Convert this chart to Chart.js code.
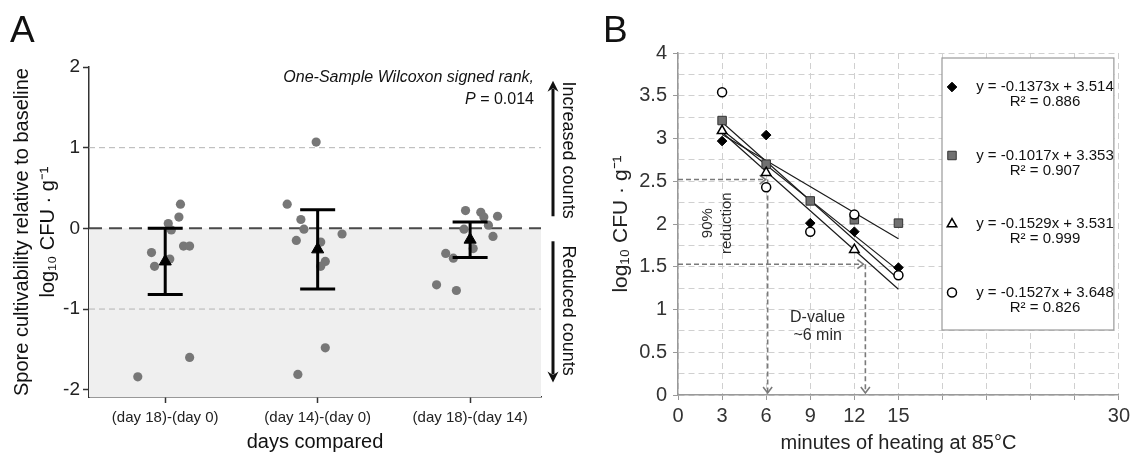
<!DOCTYPE html>
<html><head><meta charset="utf-8">
<script src="https://cdn.jsdelivr.net/npm/chart.js@4.4.1/dist/chart.umd.min.js"></script>
<style>
html,body{margin:0;padding:0;background:#fff;width:1134px;height:458px;overflow:hidden;}
#wa{position:absolute;left:0;top:0;width:590px;height:458px;}
#wb{position:absolute;left:590px;top:0;width:544px;height:458px;}
canvas{display:block;}
</style></head><body>
<div id="wa"><canvas id="ca" width="590" height="458"></canvas></div>
<div id="wb"><canvas id="cb" width="544" height="458"></canvas></div>
<script>
// ================= Panel A data =================
const comparisons = ['(day 18)-(day 0)', '(day 14)-(day 0)', '(day 18)-(day 14)'];
// x = position on the comparison axis (1, 2, 3 with jitter), y = log10 change
const d18d0X      = [0.82, 1.10, 1.09, 1.02, 1.04, 0.91, 0.93, 1.03, 1.12, 1.16, 1.16];
const d18d0Values = [-1.84, 0.30, 0.14, 0.06, -0.02, -0.30, -0.47, -0.38, -0.22, -0.22, -1.60];
const d14d0X      = [1.99, 1.80, 1.89, 1.91, 1.86, 2.16, 2.02, 2.05, 2.02, 2.05, 1.87];
const d14d0Values = [1.07, 0.30, 0.11, -0.01, -0.15, -0.07, -0.17, -0.41, -0.47, -1.48, -1.81];
const d18d14X      = [2.97, 3.07, 3.09, 3.18, 3.12, 2.96, 3.15, 3.02, 2.84, 2.89, 2.78, 2.91];
const d18d14Values = [0.22, 0.20, 0.14, 0.15, 0.04, -0.01, -0.10, -0.25, -0.31, -0.37, -0.70, -0.77];
const meanChange = [-0.41, -0.26, -0.14];
const ciLow  = [-0.82, -0.75, -0.36];
const ciHigh = [0.00, 0.23, 0.08];
const aYTicks = [-2, -1, 0, 1, 2];
const aRefLines = [1, -1];
const statTest = 'One-Sample Wilcoxon signed rank,';
const statP = '0.014';

// ================= Panel B data =================
const minutes = [3, 6, 9, 12, 15];
const diamondLog = [2.97, 3.04, 2.01, 1.91, 1.49];
const squareLog  = [3.21, 2.70, 2.27, 2.05, 2.01];
const triangleMinutes = [3, 6, 12];
const triangleLog = [3.09, 2.60, 1.70];
const circleLog  = [3.54, 2.43, 1.91, 2.11, 1.40];
const fitSlopes     = [-0.1373, -0.1017, -0.1529, -0.1527];
const fitIntercepts = [3.514, 3.353, 3.531, 3.648];
const fitR2         = [0.886, 0.907, 0.999, 0.826];
const fitRange = [3, 15];
const bXTickLabels = ['0', '3', '6', '9', '12', '15', '', '', '', '', '30'];
const bYTickLabels = ['0', '0.5', '1', '1.5', '2', '2.5', '3', '3.5', '4'];
const dLevels  = [2.52, 1.53];   // log10 levels: 90% reduction
const dMinutes = [6.1, 12.75];
const panelLabels = ['A', 'B'];

// ================= helpers =================
const FONT = '"Liberation Sans", Arial, Helvetica, sans-serif';
Chart.defaults.font.family = FONT;
Chart.defaults.color = '#222';
function isHalf(v){ return Math.abs(v*2 - Math.round(v*2)) < 1e-9; }

// ================= Chart A =================
const aXMin = 0.5, aXMax = 3.465;
const groupsA = [[d18d0X, d18d0Values], [d14d0X, d14d0Values], [d18d14X, d18d14Values]];
const dsA = [];
dsA.push({type:'line', label:'no change', data:[{x:aXMin,y:0},{x:aXMax,y:0}],
  borderColor:'#4a4a4a', borderWidth:2, borderDash:[13,7], backgroundColor:'#efefef',
  fill:'start', pointRadius:0, order:10});
aRefLines.forEach(v => dsA.push({type:'line', label:'ref '+v, data:[{x:aXMin,y:v},{x:aXMax,y:v}],
  borderColor:'#b3b3b3', borderWidth:1, borderDash:[6,4], pointRadius:0, fill:false, order:9}));
groupsA.forEach((g, gi) => dsA.push({type:'scatter', label:comparisons[gi],
  data:g[0].map((x,i) => ({x, y:g[1][i]})), backgroundColor:'#777', borderWidth:0,
  pointRadius:4.6, order:5}));
const meanIdxA = dsA.length;
dsA.push({type:'scatter', label:'mean', data:meanChange.map((y,i) => ({x:i+1, y})),
  pointStyle:'triangle', pointRadius:7, backgroundColor:'#000', borderColor:'#000', borderWidth:1, order:1});

const errorBars = {
  id:'errorBars',
  beforeDatasetDraw(chart, args){
    if (args.index !== meanIdxA) return;
    const {ctx, scales:{x, y}} = chart;
    ctx.save();
    ctx.strokeStyle = '#000'; ctx.lineWidth = 3; ctx.setLineDash([]);
    meanChange.forEach((m, i) => {
      const px = x.getPixelForValue(i+1);
      const yl = y.getPixelForValue(ciLow[i]), yh = y.getPixelForValue(ciHigh[i]);
      ctx.beginPath();
      ctx.moveTo(px, yl); ctx.lineTo(px, yh);
      ctx.moveTo(px-17.5, yl); ctx.lineTo(px+17.5, yl);
      ctx.moveTo(px-17.5, yh); ctx.lineTo(px+17.5, yh);
      ctx.stroke();
    });
    ctx.restore();
  }
};

function arrowV(ctx, x, y0, y1){ // from y0 to tip at y1
  const dir = y1 < y0 ? -1 : 1;
  ctx.beginPath(); ctx.moveTo(x, y0); ctx.lineTo(x, y1 - dir*8); ctx.stroke();
  ctx.beginPath(); ctx.moveTo(x, y1); ctx.lineTo(x-5.5, y1 - dir*11); ctx.lineTo(x, y1 - dir*7.5);
  ctx.lineTo(x+5.5, y1 - dir*11); ctx.closePath(); ctx.fill();
}

const annotA = {
  id:'annotA',
  afterDraw(chart){
    const {ctx, chartArea:ca, scales:{y}} = chart;
    ctx.save();
    ctx.fillStyle = '#111'; ctx.strokeStyle = '#111';
    ctx.font = '37px ' + FONT; ctx.textAlign = 'left'; ctx.textBaseline = 'alphabetic';
    ctx.fillText(panelLabels[0], 10, 42);
    // statistics text
    const tx = ca.right - 7;
    ctx.textAlign = 'right'; ctx.textBaseline = 'middle';
    ctx.font = 'italic 16px ' + FONT;
    ctx.fillText(statTest, tx, y.getPixelForValue(1.87));
    ctx.font = '16px ' + FONT;
    const rest = ' = ' + statP;
    ctx.fillText(rest, tx, y.getPixelForValue(1.60));
    const w = ctx.measureText(rest).width;
    ctx.font = 'italic 16px ' + FONT;
    ctx.fillText('P', tx - w, y.getPixelForValue(1.60));
    // arrows
    const ax = ca.right + 12;
    ctx.lineWidth = 3;
    arrowV(ctx, ax, y.getPixelForValue(0.15), y.getPixelForValue(1.83));
    arrowV(ctx, ax, y.getPixelForValue(-0.16), y.getPixelForValue(-1.91));
    // rotated labels
    ctx.font = '18px ' + FONT; ctx.textAlign = 'center'; ctx.textBaseline = 'middle';
    [['Increased counts', 0.97], ['Reduced counts', -1.02]].forEach(([t, v]) => {
      ctx.save();
      ctx.translate(ax + 15, y.getPixelForValue(v));
      ctx.rotate(Math.PI/2);
      ctx.fillText(t, 0, 0);
      ctx.restore();
    });
    ctx.restore();
  }
};

new Chart(document.getElementById('ca'), {
  type:'scatter',
  data:{datasets:dsA},
  plugins:[errorBars, annotA],
  options:{
    responsive:false, animation:false, devicePixelRatio:1,
    layout:{padding:{left:0, right:49, top:67, bottom:0}},
    plugins:{legend:{display:false}, tooltip:{enabled:false}},
    scales:{
      x:{type:'linear', min:aXMin, max:aXMax,
        afterBuildTicks:s => { s.ticks = comparisons.map((c,i) => ({value:i+1})); },
        ticks:{callback:v => comparisons[Math.round(v)-1], font:{size:15}, color:'#222', padding:6, maxRotation:0, autoSkip:false},
        grid:{drawOnChartArea:false, drawTicks:true, tickLength:6, color:'#333', tickWidth:1.5},
        border:{color:'#333', width:1.5},
        title:{display:true, text:'days compared', font:{size:20}, color:'#111', padding:{top:0, bottom:4}},
        afterFit:s => { s.height = 61; }
      },
      y:{type:'linear', min:-2.09, max:2,
        afterBuildTicks:s => { s.ticks = aYTicks.map(v => ({value:v})); },
        ticks:{font:{size:19}, color:'#222', padding:3},
        grid:{drawOnChartArea:false, tickLength:6, color:'#333', tickWidth:1.5},
        border:{color:'#333', width:1.5},
        title:{display:true, text:['Spore cultivability relative to baseline', 'log₁₀ CFU · g⁻¹'],
          font:{size:20, lineHeight:1.3}, color:'#111', padding:{top:9, bottom:0}},
        afterFit:s => { s.width = 89; }
      }
    }
  }
});

// ================= Chart B =================
const seriesB = [
  {label:'diamond',  xs:minutes,         ys:diamondLog,  style:'rectRot',  r:4.8, bg:'#000',    bc:'#000', bw:1},
  {label:'square',   xs:minutes,         ys:squareLog,   style:'rect',     r:6,   bg:'#707070', bc:'#333', bw:1},
  {label:'triangle', xs:triangleMinutes, ys:triangleLog, style:'triangle', r:5.5, bg:'#fff',    bc:'#000', bw:1.5},
  {label:'circle',   xs:minutes,         ys:circleLog,   style:'circle',   r:4.5, bg:'#fff',    bc:'#000', bw:1.5}
];
const dsB = [];
fitSlopes.forEach((m, i) => dsB.push({type:'line', label:'fit '+seriesB[i].label,
  data:fitRange.map(x => ({x, y:m*x + fitIntercepts[i]})),
  borderColor:'#1a1a1a', borderWidth:1.2, pointRadius:0, fill:false, order:10}));
seriesB.forEach((s, i) => dsB.push({type:'scatter', label:s.label,
  data:s.xs.map((x, j) => ({x, y:s.ys[j]})), pointStyle:s.style, pointRadius:s.r,
  backgroundColor:s.bg, borderColor:s.bc, borderWidth:s.bw, order:5 - i}));

function drawMarker(ctx, s, x, y){
  ctx.fillStyle = s.bg; ctx.strokeStyle = s.bc; ctx.lineWidth = s.bw;
  if (Chart.helpers && Chart.helpers.drawPoint) {
    Chart.helpers.drawPoint(ctx, {pointStyle:s.style, radius:s.r, rotation:0, borderWidth:s.bw}, x, y);
  } else {
    ctx.beginPath(); ctx.arc(x, y, s.r, 0, Math.PI*2); ctx.fill(); ctx.stroke();
  }
}

const annotB = {
  id:'annotB',
  beforeDatasetsDraw(chart){
    const {ctx, chartArea:ca, scales:{x, y}} = chart;
    ctx.save();
    ctx.strokeStyle = '#7a7a7a'; ctx.lineWidth = 1.6;
    dLevels.forEach((lv, i) => {
      const py = y.getPixelForValue(lv), px = x.getPixelForValue(dMinutes[i]), p0 = y.getPixelForValue(0);
      ctx.setLineDash([5,3]);
      ctx.beginPath(); ctx.moveTo(ca.left, py); ctx.lineTo(px - 2, py); ctx.stroke();
      ctx.beginPath(); ctx.moveTo(px, py); ctx.lineTo(px, p0 - 2); ctx.stroke();
      ctx.setLineDash([]);
      ctx.beginPath(); ctx.moveTo(px - 8, py - 4.5); ctx.lineTo(px - 2, py); ctx.lineTo(px - 8, py + 4.5); ctx.stroke();
      ctx.beginPath(); ctx.moveTo(px - 4.5, p0 - 8); ctx.lineTo(px, p0 - 2); ctx.lineTo(px + 4.5, p0 - 8); ctx.stroke();
    });
    ctx.restore();
  },
  afterDatasetsDraw(chart){
    const {ctx, chartArea:ca, scales:{x, y}} = chart;
    ctx.save();
    ctx.fillStyle = '#2a2a2a'; ctx.textAlign = 'center'; ctx.textBaseline = 'middle';
    ctx.font = '15px ' + FONT;
    [['90%', 2.0], ['reduction', 3.3]].forEach(([t, mx]) => {
      ctx.save(); ctx.translate(x.getPixelForValue(mx), y.getPixelForValue(2.01));
      ctx.rotate(-Math.PI/2); ctx.fillText(t, 0, 0); ctx.restore();
    });
    ctx.font = '16px ' + FONT;
    ctx.fillText('D-value', x.getPixelForValue(9.5), y.getPixelForValue(0.91));
    ctx.fillText('~6 min', x.getPixelForValue(9.5), y.getPixelForValue(0.70));
    // legend box
    const bl = ca.left + 264, br = ca.right - 5, bt = ca.top + 5, bb = ca.top + 277;
    ctx.fillStyle = '#fff'; ctx.fillRect(bl, bt, br - bl, bb - bt);
    ctx.strokeStyle = '#9a9a9a'; ctx.lineWidth = 1.2; ctx.strokeRect(bl, bt, br - bl, bb - bt);
    seriesB.forEach((s, i) => {
      const ly = bt + 29 + 68.5*i;
      drawMarker(ctx, s, bl + 10, ly);
      ctx.fillStyle = '#111'; ctx.font = '15px ' + FONT; ctx.textAlign = 'center'; ctx.textBaseline = 'middle';
      ctx.fillText('y = ' + fitSlopes[i].toFixed(4) + 'x + ' + fitIntercepts[i].toFixed(3), bl + 103, ly);
      ctx.fillText('R² = ' + fitR2[i].toFixed(3), bl + 103, ly + 15);
    });
    ctx.restore();
  },
  afterDraw(chart){
    const ctx = chart.ctx;
    ctx.save();
    ctx.fillStyle = '#111'; ctx.font = '37px ' + FONT; ctx.textAlign = 'left'; ctx.textBaseline = 'alphabetic';
    ctx.fillText(panelLabels[1], 13, 42);
    ctx.restore();
  }
};

new Chart(document.getElementById('cb'), {
  type:'scatter',
  data:{datasets:dsB},
  plugins:[annotB],
  options:{
    responsive:false, animation:false, devicePixelRatio:1,
    layout:{padding:{left:0, right:14, top:53, bottom:0}},
    plugins:{legend:{display:false}, tooltip:{enabled:false}},
    scales:{
      x:{type:'linear', min:0, max:30,
        ticks:{stepSize:3, autoSkip:false, maxRotation:0, callback:(v, i) => bXTickLabels[i] ?? '', font:{size:20}, color:'#333', padding:4},
        grid:{color:'#d0d0d0', tickColor:'#999', tickLength:5, lineWidth:1},
        border:{color:'#999', width:1.5, dash:[6,4]},
        title:{display:true, text:'minutes of heating at 85°C', font:{size:20}, color:'#222', padding:{top:0, bottom:3}},
        afterFit:s => { s.height = 63; }
      },
      y:{type:'linear', min:0, max:4,
        ticks:{stepSize:0.25, autoSkip:false, callback:v => isHalf(v) ? bYTickLabels[Math.round(v*2)] : '', font:{size:20}, color:'#333', padding:6},
        grid:{color:'#d0d0d0', tickColor:ctx => (ctx.tick && isHalf(ctx.tick.value)) ? '#999' : 'rgba(0,0,0,0)', tickLength:5, lineWidth:1},
        border:{color:'#999', width:1.5, dash:[6,4]},
        title:{display:true, text:'log₁₀ CFU · g⁻¹', font:{size:21}, color:'#222', padding:{top:19, bottom:0}},
        afterFit:s => { s.width = 88; }
      }
    }
  }
});
</script>
</body></html>
